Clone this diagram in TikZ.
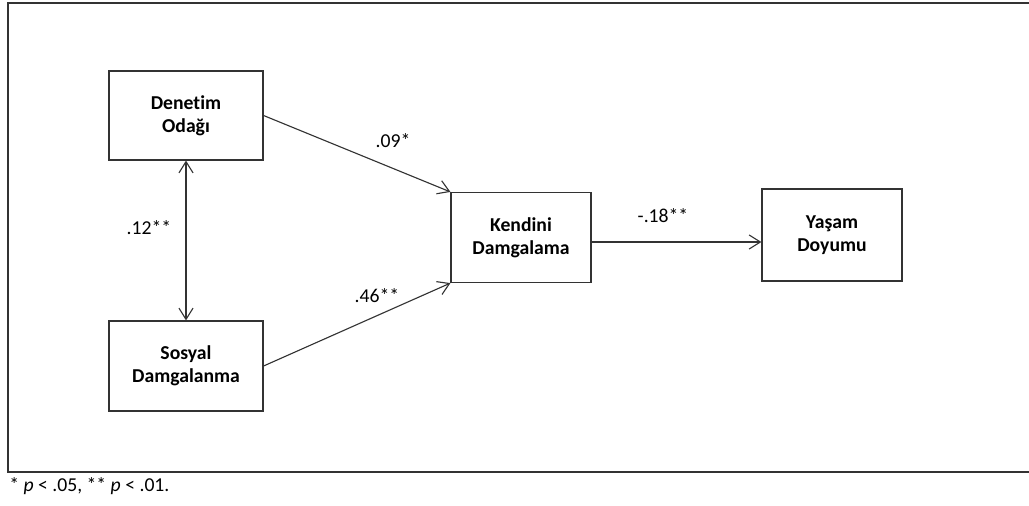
\documentclass[tikz,border=0pt]{standalone}
\usepackage{fontspec}
\setmainfont{Carlito}[Ligatures={NoCommon}]
\usetikzlibrary{arrows.meta}

\tikzset{
    varbox/.style={draw=black!80, line width=0.8pt, font=\fontsize{14}{16.5}\selectfont\bfseries, align=center, inner sep=0pt},
    path/.style={draw=black!80, line width=0.8pt, -{Straight Barb[length=8pt,width=10pt]}},
    coef/.style={font=\fontsize{14}{16.5}\selectfont}
}

\begin{document}
\begin{tikzpicture}[x=0.025cm, y=-0.025cm]
    \useasboundingbox (0,0) rectangle (1029,505);
    \draw[black!80, line width=0.8pt] (1040,3) -- (8,3) -- (8,472) -- (1040,472);

    \node[varbox, minimum width=3.85cm, minimum height=2.225cm] (denetim) at (186,115.5) {Denetim\\Odağı};
    \node[varbox, minimum width=3.85cm, minimum height=2.25cm] (sosyal) at (186,366) {Sosyal\\Damgalanma};
    \node[varbox, minimum width=3.5cm, minimum height=2.25cm] (kendini) at (521,237.5) {Kendini\\Damgalama};
    \node[varbox, minimum width=3.5cm, minimum height=2.3cm] (yasam) at (832,235) {Yaşam\\Doyumu};

    \draw[path] (denetim.east) -- (kendini.north west);
    \draw[path] (sosyal.east) -- (kendini.south west);
    \draw[path, {Straight Barb[length=8pt,width=10pt]}-{Straight Barb[length=8pt,width=10pt]}] (denetim.south) -- (sosyal.north);
    \draw[path] ([yshift=-3.2pt]kendini.east) -- ([yshift=-3.2pt]kendini.east -| yasam.west);

    \node[coef] (c1) at (393,141) {.09*};
    \node[coef] (c2) at (377,296) {.46**};
    \node[coef] (c3) at (149,228) {.12**};
    \node[coef] (c4) at (663,216) {-.18**};

    \node[coef, anchor=west, inner sep=0pt] (note) at (9,486) {* \textit{p} < .05, ** \textit{p} < .01.};
\end{tikzpicture}
\end{document}
